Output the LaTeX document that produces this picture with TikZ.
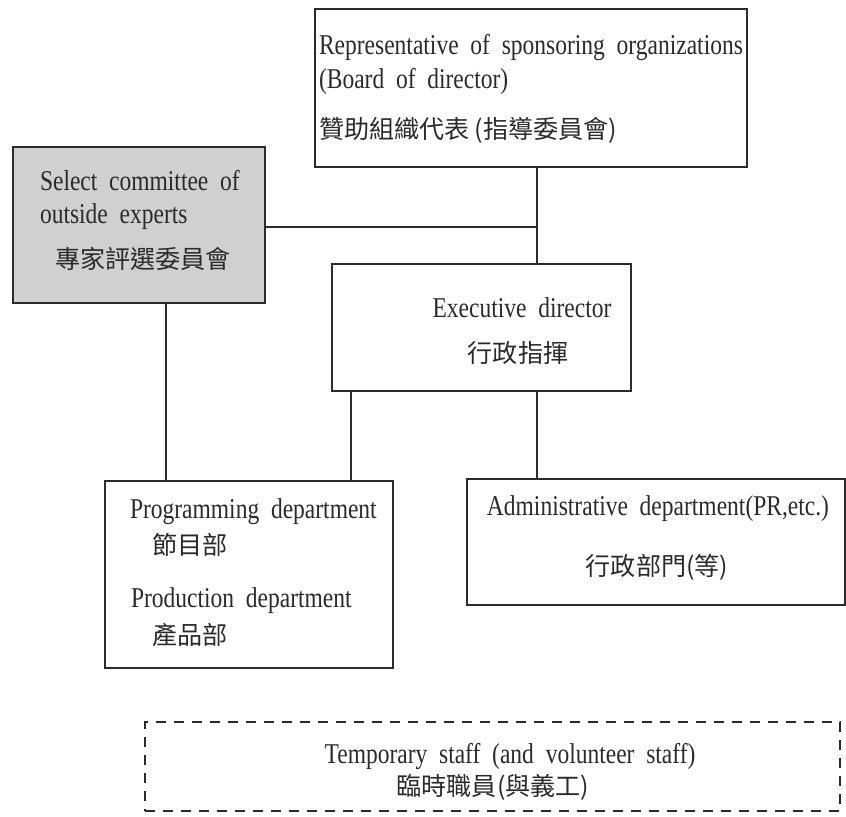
\documentclass[tikz,border=0pt]{standalone}
\usepackage{fontspec}
\setmainfont{Liberation Serif}[FakeStretch=0.82, WordSpace=2]
\newfontfamily\cjk{Noto Sans CJK TC}
\definecolor{linegray}{HTML}{2B2B2B}
\definecolor{boxfill}{HTML}{D0D0D0}
\definecolor{ink}{HTML}{2A2A2A}
\def\px{0.75pt}
\tikzset{
  box/.style={draw=linegray, line width=1.65pt, inner sep=0pt, outer sep=0pt},
  shaded/.style={box, fill=boxfill},
  dashbox/.style={draw=linegray, line width=1.65pt, dash pattern=on 7.5pt off 6pt, inner sep=0pt, outer sep=0pt},
  link/.style={draw=linegray, line width=1.2pt},
  en/.style={font=\fontsize{21.5pt}{24pt}\selectfont, text=ink, inner sep=0pt, outer sep=0pt},
  zh/.style={font=\cjk\fontsize{18.8pt}{20pt}\selectfont, text=ink, inner sep=0pt, outer sep=0pt},
}
\begin{document}
\begin{tikzpicture}[x=0.75pt, y=-0.75pt]
\useasboundingbox (0,0) rectangle (846,817);

% boxes
\node[box, minimum width=432*\px, minimum height=158*\px] (rep) at (531,88) {};
\node[shaded, minimum width=252*\px, minimum height=156*\px] (sel) at (139,225) {};
\node[box, minimum width=299*\px, minimum height=127*\px] (exe) at (481.5,327.5) {};
\node[box, minimum width=288*\px, minimum height=187*\px] (prog) at (249,574.5) {};
\node[box, minimum width=378*\px, minimum height=126*\px] (adm) at (656,542) {};
\node[dashbox, minimum width=695*\px, minimum height=89*\px] (tmp) at (492.5,766.5) {};

% junction columns
\coordinate (jmain) at (537,227);
\coordinate (jsel) at (166,0);
\coordinate (jprog) at (351,0);

% connectors
\draw[link] (rep.south -| jmain) -- (exe.north -| jmain);
\draw[link] (sel.east |- jmain) -- (jmain);
\draw[link] (sel.south -| jsel) -- (prog.north -| jsel);
\draw[link] (exe.south -| jprog) -- (prog.north -| jprog);
\draw[link] (exe.south -| jmain) -- (adm.north -| jmain);

% labels
\node[en, anchor=base west] (rep1) at (319,55) {Representative of sponsoring organizations};
\node[en, anchor=base west] (rep2) at (319,89) {(Board of director)};
\node[zh, anchor=west] (rep3) at (319,130) {贊助組織代表 (指導委員會)};

\node[en, anchor=base west] (sel1) at (40,190) {Select committee of};
\node[en, anchor=base west] (sel2) at (40,223) {outside experts};
\node[zh, anchor=west] (sel3) at (55,259) {專家評選委員會};

\node[en, anchor=base] (exe1) at (522,317) {Executive director};
\node[zh] (exe2) at (518,353) {行政指揮};

\node[en, anchor=base west] (prog1) at (130,518) {Programming department};
\node[zh, anchor=west] (prog2) at (152,545) {節目部};
\node[en, anchor=base west] (prog3) at (131,607) {Production department};
\node[zh, anchor=west] (prog4) at (152,635) {產品部};

\node[en, anchor=base] (adm1) at (658,515) {Administrative department(PR,etc.)};
\node[zh] (adm2) at (657,567) {行政部門(等)};

\node[en, anchor=base] (tmp1) at (510,763) {Temporary staff (and volunteer staff)};
\node[zh] (tmp2) at (493,787) {臨時職員(與義工)};
\end{tikzpicture}
\end{document}
